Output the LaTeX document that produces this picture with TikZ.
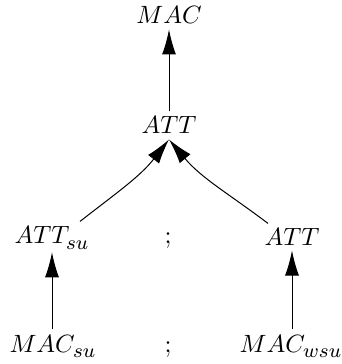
\documentclass[tikz,border=0pt]{standalone}
\usetikzlibrary{arrows.meta,calc}
% slightly larger script size for the subscripts
\DeclareMathSizes{10}{10.3}{8.5}{6}
% subscript set a little lower than the default
\newcommand\lsub[1]{_{\vphantom{b}#1}}
\begin{document}
\begin{tikzpicture}[x=0.4pt,y=-0.4pt,
  lbl/.style={anchor=base,inner sep=2pt},
  arr/.style={-{Latex[length=10pt,width=5.6pt]},line width=0.4pt}]
\useasboundingbox (0,0) rectangle (341,364);
% nodes, placed on their baselines
\node[lbl] (mac)   at (169,24)  {$MAC$};
\node[lbl] (att)   at (169,134) {$ATT$};
\node[lbl] (attsu) at (52,244)  {$ATT\lsub{su}$};
\node[lbl] (semi1) at (168,244) {;};
\node[lbl] (attr)  at (292,245) {$ATT$};
\node[lbl] (macsu) at (53,352)  {$MAC\lsub{su}$};
\node[lbl] (semi2) at (168,352) {;};
\node[lbl] (macw)  at (291,352) {$MAC\lsub{wsu}$};
% connectors
\draw[arr] (att.north) -- (mac.south);
\draw[arr] ($(attsu.north)+(28,0)$) to[out=38,in=-128] (att.south);
\draw[arr] ($(attr.north)+(-24,1)$) to[out=143,in=-50] (att.south);
\draw[arr] (macsu.north -| attsu.south) -- ([yshift=1pt]attsu.south);
\draw[arr] (macw.north -| attr.south) -- (attr.south);
\end{tikzpicture}
\end{document}
